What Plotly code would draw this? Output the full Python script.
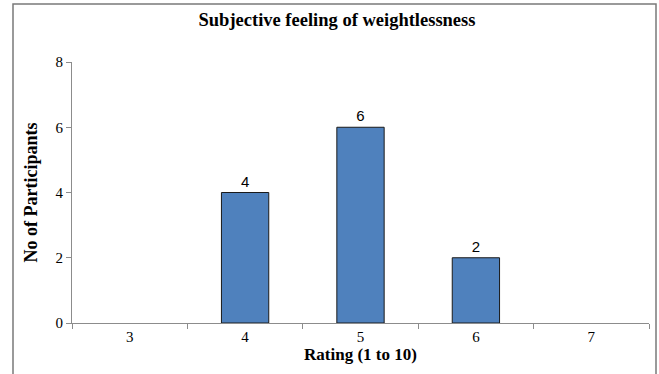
import plotly.graph_objects as go

categories = ["3", "4", "5", "6", "7"]
values = [0, 4, 6, 2, 0]
labels = ["", "4", "6", "2", ""]

outline_widths = [0 if v == 0 else 1 for v in values]

fig = go.Figure()
fig.add_trace(go.Bar(
    x=categories, y=values,
    marker=dict(color="#4F81BD", line=dict(color="#1a1a1a", width=outline_widths)),
    width=0.41,
    text=labels, textposition="outside", cliponaxis=False,
    textfont=dict(family="Liberation Sans, Arial", size=15, color="#000"),
))

L, R, T, B = 72, 10, 62, 51
W, H = 659, 374
pw, ph = W - L - R, H - T - B

fig.update_layout(
    width=W, height=H,
    margin=dict(l=L, r=R, t=T, b=B, autoexpand=False),
    paper_bgcolor="white", plot_bgcolor="white",
    showlegend=False,
    font=dict(family="Liberation Serif, Times New Roman", color="#000"),
    title=dict(text="<b>Subjective feeling of weightlessness</b>",
               x=337 / W, xanchor="center", y=1 - 20 / H, yanchor="middle",
               font=dict(size=18.5, family="Liberation Serif, Times New Roman", color="#000")),
    xaxis=dict(
        type="category", showline=True, linecolor="#8c8c8c", linewidth=1,
        ticks="outside", tickson="boundaries", ticklen=5, tickcolor="#8c8c8c",
        tickfont=dict(size=15), showgrid=False, automargin=False,
        title=dict(text="<b>Rating (1 to 10)</b>", font=dict(size=17), standoff=0),
    ),
    yaxis=dict(
        range=[0, 8], dtick=2, showline=True, linecolor="#8c8c8c", linewidth=1,
        ticks="outside", ticklen=5, tickcolor="#8c8c8c", showgrid=False, zeroline=False,
        tickfont=dict(size=15), automargin=False,
        title=dict(text="<b>No of Participants</b>", font=dict(size=18), standoff=13),
    ),
)

fig.add_shape(type="rect", xref="paper", yref="paper",
              x0=(13 - L) / pw, x1=(656 - L) / pw,
              y0=(H - B - 390) / ph, y1=(H - B - 4) / ph,
              line=dict(color="#7a7a7a", width=1.5), fillcolor="rgba(0,0,0,0)", layer="below")

fig.write_html("out.html",
               config={"displayModeBar": False},
               post_script="document.body.style.margin='0';document.body.style.overflow='hidden';")
